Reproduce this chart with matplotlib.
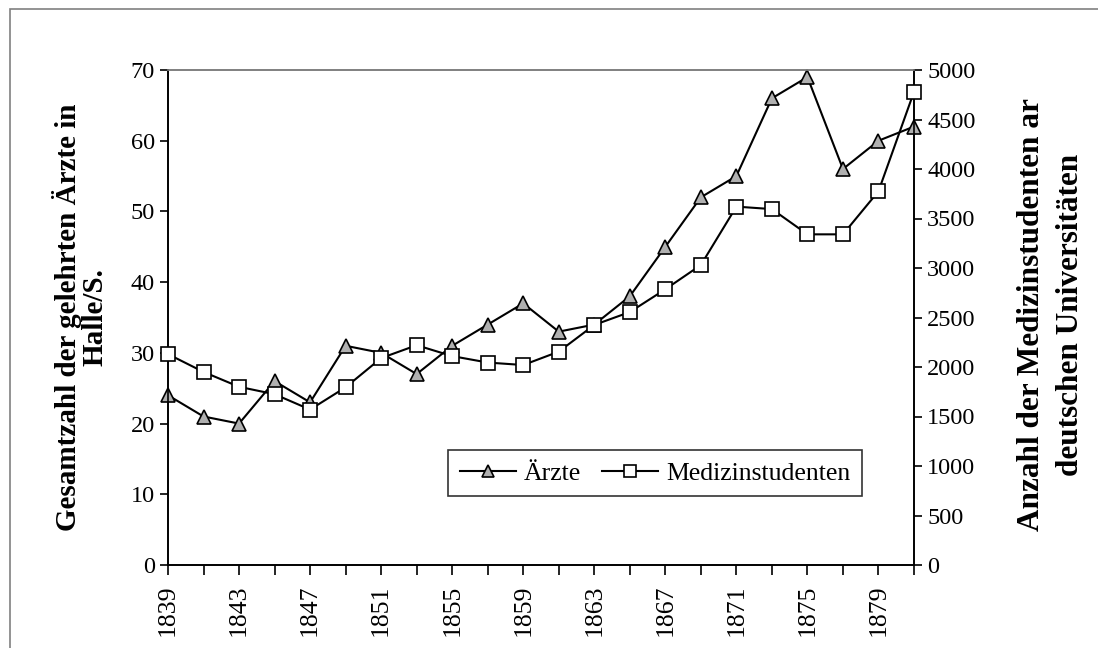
import matplotlib.pyplot as plt
from matplotlib.patches import Rectangle

# --- Daten ---
jahre = list(range(1839, 1882, 2))
aerzte = [24, 21, 20, 26, 23, 31, 30, 27, 31, 34, 37, 33,
          34, 38, 45, 52, 55, 66, 69, 56, 60, 62]
studenten = [2130, 1950, 1800, 1725, 1570, 1795, 2090, 2220, 2110, 2045, 2020, 2155,
             2425, 2555, 2785, 3030, 3620, 3595, 3340, 3340, 3775, 4780]
xlabels = [str(j) if (j - 1839) % 4 == 0 else '' for j in jahre]

plt.rcParams['font.family'] = ['Liberation Serif', 'DejaVu Serif']

fig = plt.figure(figsize=(10.98, 6.48), dpi=100)
ax = fig.add_axes([168/1098, 1 - 565/648, (914 - 168)/1098, (565 - 70)/648])
ax2 = ax.twinx()

# äußerer Rahmen
fig.patches.append(Rectangle((10/1098, -0.1), 1.2, 1.1 - 9/648, transform=fig.transFigure,
                             fill=False, edgecolor='#808080', linewidth=1.2))

l1, = ax.plot(jahre, aerzte, color='black', linewidth=1.5, marker='^', markersize=10,
              markerfacecolor='#b0b0b0', markeredgecolor='black', markeredgewidth=1.2,
              label='Ärzte', clip_on=False, zorder=3)
l2, = ax2.plot(jahre, studenten, color='black', linewidth=1.5, marker='s', markersize=10,
               markerfacecolor='white', markeredgecolor='black', markeredgewidth=1.2,
               label='Medizinstudenten', clip_on=False, zorder=3)

ax.set_xlim(1839, 1881)
ax.set_ylim(0, 70)
ax2.set_ylim(0, 5000)
ax.set_yticks(range(0, 71, 10))
ax2.set_yticks(range(0, 5001, 500))
ax.set_xticks(jahre)
ax.set_xticklabels(xlabels, rotation=90, fontsize=18.5)
ax.tick_params(axis='y', labelsize=17.5, direction='out', length=6, width=1.2)
ax.tick_params(axis='x', direction='out', length=7, width=1.2, pad=7)
ax2.tick_params(axis='y', labelsize=17.5, direction='out', length=6, width=1.2)

for a in (ax, ax2):
    for s in ('left', 'right', 'bottom'):
        a.spines[s].set_color('black')
        a.spines[s].set_linewidth(1.2)
    a.spines['top'].set_color('#808080')
    a.spines['top'].set_linewidth(1.2)

# Achsentitel
fig.text(80/1098, 1 - 317/648, 'Gesamtzahl der gelehrten Ärzte in\nHalle/S.', fontsize=21,
         fontweight='bold', rotation=90, ha='center', va='center', multialignment='center',
         linespacing=1.0)
fig.text(1051/1098, 1 - 315/648, 'Anzahl der Medizinstudenten ar\ndeutschen Universitäten',
         fontsize=22.5, fontweight='bold', rotation=90, ha='center', va='center',
         multialignment='center', linespacing=1.45)

leg = ax.legend(handles=[l1, l2], ncol=2, loc='center', bbox_to_anchor=(0.653, 0.185),
                fontsize=18.5, frameon=True, fancybox=False, handlelength=2.2,
                handletextpad=0.3, columnspacing=0.8, borderpad=0.45, markerscale=0.8)
leg.get_frame().set_edgecolor('black')
leg.get_frame().set_linewidth(1.2)
leg.set_zorder(5)

plt.savefig('out.png', dpi=100)
